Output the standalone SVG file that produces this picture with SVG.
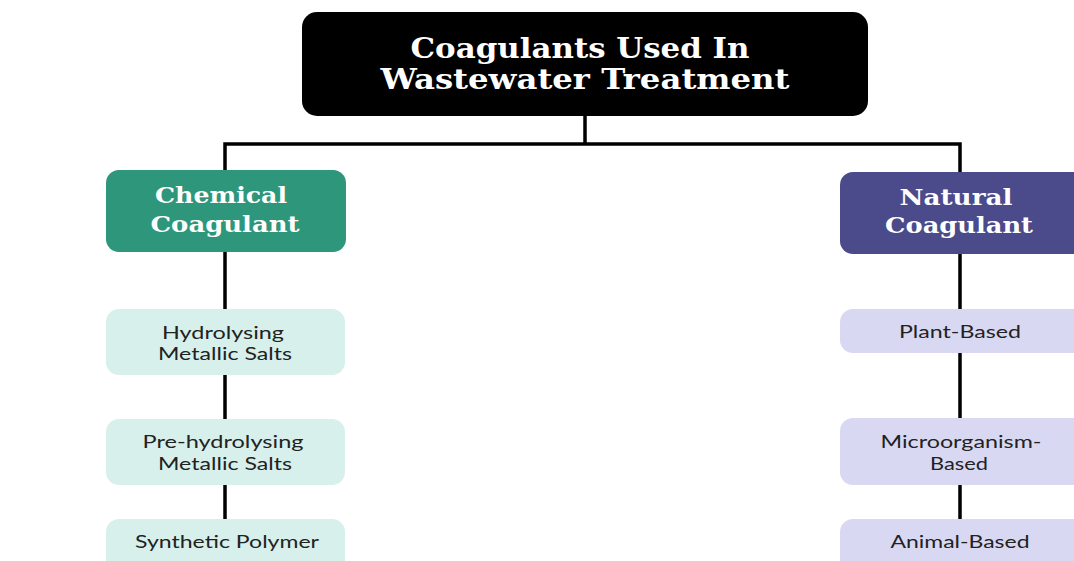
<svg xmlns="http://www.w3.org/2000/svg" width="1074" height="561" viewBox="0 0 1074 561">
<style>
.conn{stroke:#000;stroke-width:3.5;fill:none;stroke-linecap:square}
.ttl{font-family:"DejaVu Serif","Liberation Serif",serif;font-weight:bold;fill:#fff;text-anchor:middle}
.sub{font-family:Lato,"Liberation Sans",sans-serif;font-size:17.5px;fill:#222;text-anchor:middle}
.g1{fill:#d7f0eb}
.p1{fill:#d9d8f3}
</style>
<rect width="1074" height="561" fill="#fff"/>
<g id="connectors">
<path class="conn" d="M585 116V144M225 144H960M225 144V172M960 144V172"/>
<path class="conn" d="M225 251V309M225 375V419M225 485V519"/>
<path class="conn" d="M960 253V309M960 353V418M960 485V519"/>
</g>
<g id="root">
<rect x="302" y="12" width="566" height="104" rx="15" fill="#000"/>
<text class="ttl" x="580" y="58" font-size="27" textLength="339" lengthAdjust="spacingAndGlyphs">Coagulants Used In</text>
<text class="ttl" x="585" y="89" font-size="27" textLength="409" lengthAdjust="spacingAndGlyphs">Wastewater Treatment</text>
</g>
<g id="chemical">
<rect x="106" y="170" width="240" height="82" rx="13" fill="#2e967a"/>
<text class="ttl" x="221" y="203" font-size="22" textLength="132" lengthAdjust="spacingAndGlyphs">Chemical</text>
<text class="ttl" x="225" y="232" font-size="22" textLength="149" lengthAdjust="spacingAndGlyphs">Coagulant</text>
</g>
<g id="natural">
<rect x="840" y="172" width="250" height="82" rx="13" fill="#4b4a8a"/>
<text class="ttl" x="956" y="205" font-size="22" textLength="113" lengthAdjust="spacingAndGlyphs">Natural</text>
<text class="ttl" x="959" y="233" font-size="22" textLength="148" lengthAdjust="spacingAndGlyphs">Coagulant</text>
</g>
<g id="hydrolysing">
<rect class="g1" x="106" y="309" width="239" height="66" rx="13"/>
<text class="sub" x="223" y="339" textLength="122" lengthAdjust="spacingAndGlyphs">Hydrolysing</text>
<text class="sub" x="225" y="360" textLength="134" lengthAdjust="spacingAndGlyphs">Metallic Salts</text>
</g>
<g id="prehydrolysing">
<rect class="g1" x="106" y="419" width="239" height="66" rx="13"/>
<text class="sub" x="223" y="448" textLength="161" lengthAdjust="spacingAndGlyphs">Pre-hydrolysing</text>
<text class="sub" x="225" y="470" textLength="134" lengthAdjust="spacingAndGlyphs">Metallic Salts</text>
</g>
<g id="synthetic">
<rect class="g1" x="106" y="519" width="239" height="60" rx="13"/>
<text class="sub" x="227" y="548" textLength="184" lengthAdjust="spacingAndGlyphs">Synthetic Polymer</text>
</g>
<g id="plant">
<rect class="p1" x="840" y="309" width="250" height="44" rx="13"/>
<text class="sub" x="960" y="338" textLength="122" lengthAdjust="spacingAndGlyphs">Plant-Based</text>
</g>
<g id="microorganism">
<rect class="p1" x="840" y="418" width="250" height="67" rx="13"/>
<text class="sub" x="961" y="448" textLength="161" lengthAdjust="spacingAndGlyphs">Microorganism-</text>
<text class="sub" x="959" y="470" textLength="58" lengthAdjust="spacingAndGlyphs">Based</text>
</g>
<g id="animal">
<rect class="p1" x="840" y="519" width="250" height="60" rx="13"/>
<text class="sub" x="960" y="548" textLength="139" lengthAdjust="spacingAndGlyphs">Animal-Based</text>
</g>
</svg>
